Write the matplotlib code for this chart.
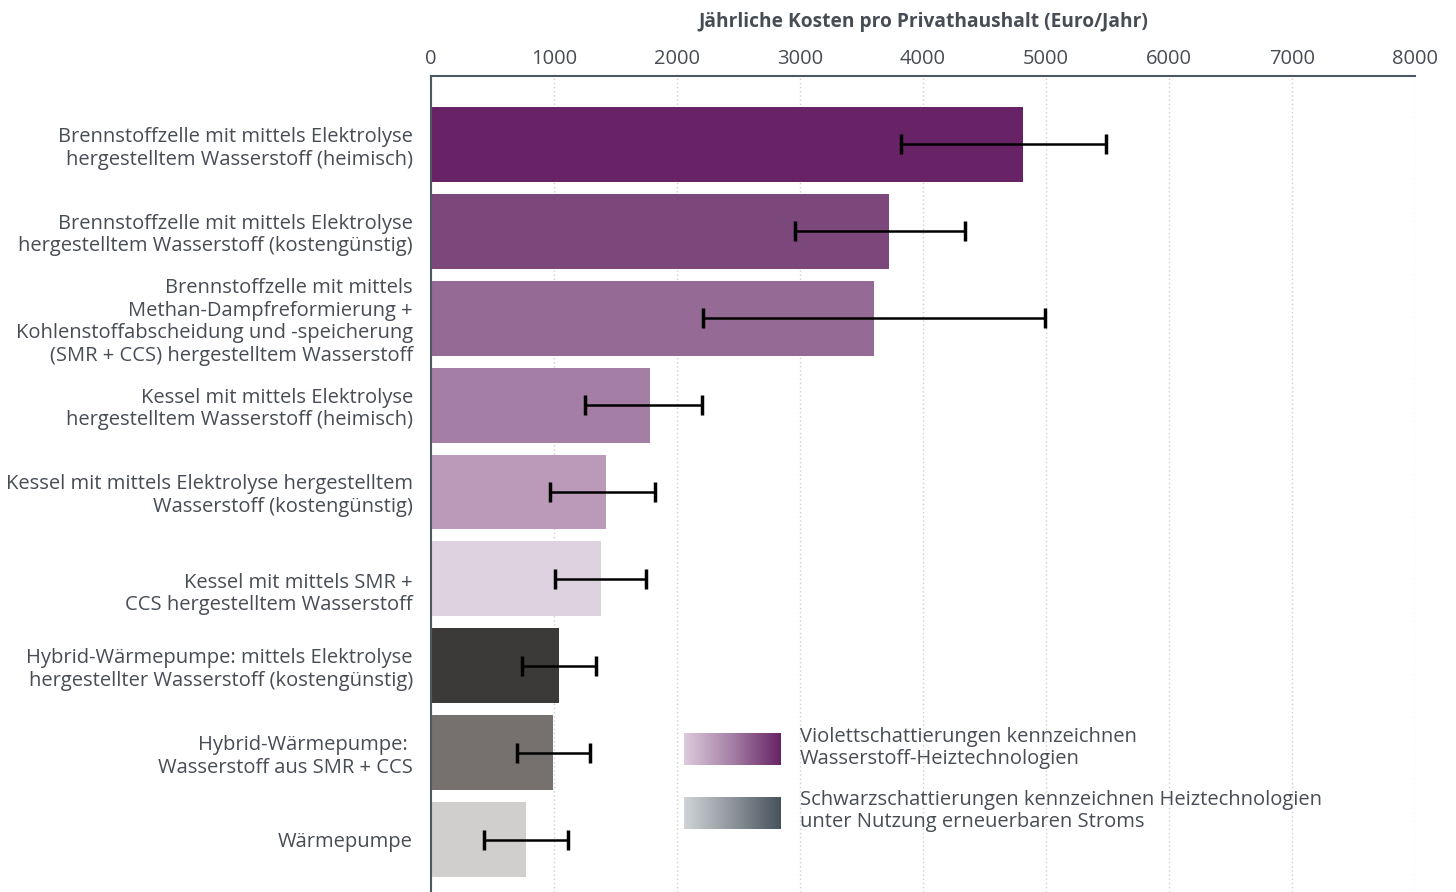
import matplotlib.pyplot as plt
import numpy as np
from matplotlib.colors import LinearSegmentedColormap

plt.rcParams['font.family'] = ['Open Sans', 'DejaVu Sans']

labels = [
    "Brennstoffzelle mit mittels Elektrolyse\nhergestelltem Wasserstoff (heimisch)",
    "Brennstoffzelle mit mittels Elektrolyse\nhergestelltem Wasserstoff (kostengünstig)",
    "Brennstoffzelle mit mittels\nMethan-Dampfreformierung +\nKohlenstoffabscheidung und -speicherung\n(SMR + CCS) hergestelltem Wasserstoff",
    "Kessel mit mittels Elektrolyse\nhergestelltem Wasserstoff (heimisch)",
    "Kessel mit mittels Elektrolyse hergestelltem\nWasserstoff (kostengünstig)",
    "\nKessel mit mittels SMR +\nCCS hergestelltem Wasserstoff",
    "Hybrid-Wärmepumpe: mittels Elektrolyse\nhergestellter Wasserstoff (kostengünstig)",
    "Hybrid-Wärmepumpe: \nWasserstoff aus SMR + CCS",
    "Wärmepumpe",
]
values = [4810, 3720, 3600, 1780, 1420, 1380, 1040, 990, 770]
err_low = [3820, 2960, 2210, 1250, 970, 1010, 740, 700, 430]
err_high = [5490, 4340, 4990, 2200, 1820, 1750, 1340, 1290, 1110]
colors = ['#672366', '#7c477a', '#956a95', '#a47ea4', '#bb99b9', '#dfd2e0',
          '#3c3a38', '#76716f', '#d1cfcd']
ticks = [0, 1000, 2000, 3000, 4000, 5000, 6000, 7000, 8000]

txt = '#474c55'
axis_col = '#4c5862'
fs = 14.5

fig = plt.figure(figsize=(14.56, 8.92), dpi=100)
ax = fig.add_axes([0.296, 0.0, 0.676, 0.9148])

y = np.arange(len(values))
ax.barh(y, values, height=0.862, color=colors, zorder=2)
xerr = [np.array(values) - np.array(err_low), np.array(err_high) - np.array(values)]
ax.errorbar(values, y, xerr=xerr, fmt='none', ecolor='black', elinewidth=1.8,
            capsize=7, capthick=2.5, zorder=3)

ax.set_xlim(0, 8000)
ax.set_ylim(8.603, -0.787)
ax.set_xticks(ticks)
ax.set_xticklabels([str(t) for t in ticks], fontsize=fs, color=txt)
ax.xaxis.tick_top()
ax.xaxis.set_label_position('top')
ax.set_xlabel('Jährliche Kosten pro Privathaushalt (Euro/Jahr)', fontsize=13.8,
              fontweight='bold', color=txt, labelpad=16)
ax.tick_params(axis='x', length=0, pad=5)
ax.tick_params(axis='y', length=0, pad=13)
ax.set_yticks(y)
ax.set_yticklabels(labels, fontsize=fs, color=txt, ha='right', linespacing=1.18)

ax.grid(axis='x', color='#cfcfcf', linestyle=(0, (1, 2)), linewidth=1, zorder=0)
ax.grid(axis='y', visible=False)
for s in ['right', 'bottom']:
    ax.spines[s].set_visible(False)
for s in ['left', 'top']:
    ax.spines[s].set_color(axis_col)
    ax.spines[s].set_linewidth(1.5)

# legend gradients
grad = np.linspace(0, 1, 256).reshape(1, -1)
purple = LinearSegmentedColormap.from_list('p', ['#dccbdc', '#a57fa5', '#672366'])
grey = LinearSegmentedColormap.from_list('g', ['#d0d4d7', '#8f959b', '#46525c'])
lx0, lx1 = 684 / 1456, 781 / 1456
for (ytop, cmap) in [(733, purple), (797, grey)]:
    lax = fig.add_axes([lx0, 1 - (ytop + 32) / 892, lx1 - lx0, 32 / 892])
    lax.imshow(grad, aspect='auto', cmap=cmap)
    lax.axis('off')

fig.text(800 / 1456, 1 - 748 / 892,
         'Violettschattierungen kennzeichnen\nWasserstoff-Heiztechnologien',
         fontsize=fs, color=txt, va='center', linespacing=1.18)
fig.text(800 / 1456, 1 - 811 / 892,
         'Schwarzschattierungen kennzeichnen Heiztechnologien\nunter Nutzung erneuerbaren Stroms',
         fontsize=fs, color=txt, va='center', linespacing=1.18)

fig.savefig('out.png', dpi=100, facecolor='white')
